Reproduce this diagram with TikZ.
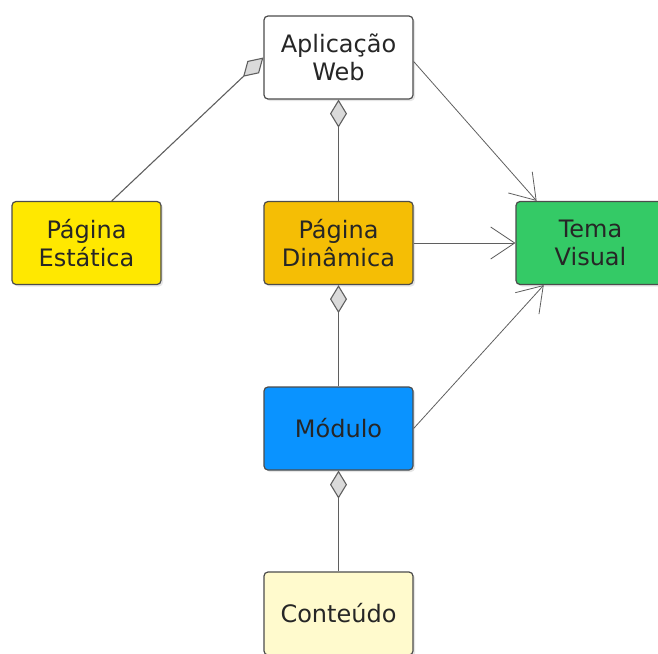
\documentclass[tikz,border=0pt]{standalone}
\usepackage{fontspec}
\setmainfont{DejaVu Sans}
\usetikzlibrary{arrows.meta, shadows}
\definecolor{estaticayellow}{RGB}{255, 232, 0}
\definecolor{dinamicaorange}{RGB}{245, 190, 5}
\definecolor{temagreen}{RGB}{52, 202, 102}
\definecolor{modulublue}{RGB}{10, 147, 255}
\definecolor{conteudocream}{RGB}{255, 250, 205}
\definecolor{linegray}{RGB}{95, 95, 95}
\definecolor{diamondgray}{RGB}{218, 218, 218}

\begin{document}
\begin{tikzpicture}[x=1pt, y=-1pt,
    box/.style={draw=black!70, line width=1.2pt, rounded corners=4pt, minimum width=149pt, minimum height=83pt,
        align=center, text=black!85, font=\fontsize{24}{28}\selectfont,
        drop shadow={shadow xshift=2pt, shadow yshift=-2pt, opacity=0.2}},
    agg/.style={draw=linegray, line width=1.1pt, {Diamond[length=28pt, width=17pt, fill=diamondgray]}-},
    dep/.style={draw=linegray, line width=0.8pt, -{Straight Barb[length=24pt, width=32pt]}}]
    \useasboundingbox (0,0) rectangle (658,653);
    % classes
    \node[box, fill=white] (app) at (338.5,57.5) {Aplicação\\Web};
    \node[box, fill=estaticayellow] (estatica) at (86.5,243) {Página\\Estática};
    \node[box, fill=dinamicaorange] (dinamica) at (338.5,243) {Página\\Dinâmica};
    \node[box, fill=temagreen] (tema) at (590.5,243) {Tema\\Visual};
    \node[box, fill=modulublue] (modulo) at (338.5,428.5) {Módulo};
    \node[box, fill=conteudocream] (conteudo) at (338.5,613.5) {Conteúdo};
    % aggregations
    \draw[agg] (app.west) -- (estatica.59);
    \draw[agg] (app.south) -- (dinamica.north);
    \draw[agg] (dinamica.south) -- (modulo.north);
    \draw[agg] (modulo.south) -- (conteudo.north);
    % dependencies
    \draw[dep] (app.-3) -- (tema.142);
    \draw[dep] (dinamica.east) -- (tema.west);
    \draw[dep] (modulo.east) -- (tema.222);
\end{tikzpicture}
\end{document}
